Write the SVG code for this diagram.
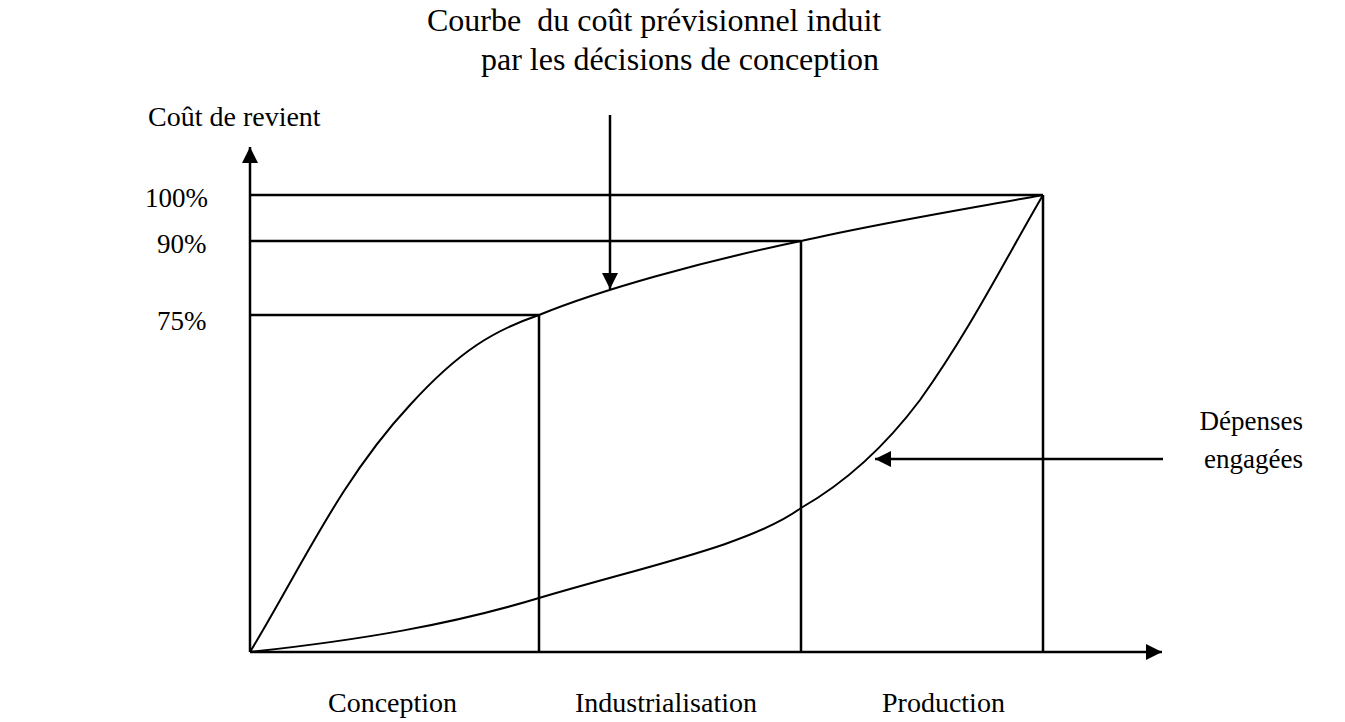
<svg xmlns="http://www.w3.org/2000/svg" width="1345" height="722" viewBox="0 0 1345 722">
  <style>
    .ln { stroke: #000; stroke-width: 2.5; fill: none; }
    .crv { stroke: #000; stroke-width: 2; fill: none; }
    .t { font-family: "Liberation Serif", "Times New Roman", serif; font-size: 27px; fill: #000; }
    .mid { font-size: 28px; }
    .big { font-size: 32px; }
  </style>
  <defs>
    <marker id="ahBig" viewBox="0 0 16 16" markerWidth="16" markerHeight="16" refX="16" refY="8" orient="auto" markerUnits="userSpaceOnUse">
      <path d="M0,0 L16,8 L0,16 Z" fill="#000"/>
    </marker>
  </defs>

  <!-- axes -->
  <g id="axes">
    <line class="ln" x1="250" y1="652" x2="250" y2="147" marker-end="url(#ahBig)"/>
    <line class="ln" x1="250" y1="652" x2="1162" y2="652" marker-end="url(#ahBig)"/>
  </g>

  <!-- reference grid lines -->
  <g id="grid">
    <line class="ln" x1="250" y1="195" x2="1043" y2="195"/>
    <line class="ln" x1="250" y1="241" x2="801" y2="241"/>
    <line class="ln" x1="250" y1="315" x2="539" y2="315"/>
    <line class="ln" x1="539" y1="315" x2="539" y2="652"/>
    <line class="ln" x1="801" y1="241" x2="801" y2="652"/>
    <line class="ln" x1="1043" y1="195" x2="1043" y2="652"/>
  </g>

  <!-- curves -->
  <g id="curve-cout-previsionnel">
    <path class="crv" d="M250,652 C300,570 340,480 410,405 C460,350 495,330 539,315 C600,290 700,262 801,241 C880,223 960,210 1043,195"/>
  </g>
  <g id="curve-depenses">
    <path class="crv" d="M250,652 C360,640 450,625 539,598 C650,565 750,545 801,508 C850,480 890,440 920,400 C970,330 1005,260 1043,195"/>
  </g>

  <!-- connectors -->
  <g id="connectors">
    <line class="ln" x1="610" y1="115" x2="610" y2="289" marker-end="url(#ahBig)"/>
    <line class="ln" x1="1163" y1="459" x2="875" y2="459" marker-end="url(#ahBig)"/>
  </g>

  <!-- labels -->
  <g id="labels">
    <text class="t big" x="427" y="31" xml:space="preserve">Courbe  du coût prévisionnel induit</text>
    <text class="t big" x="481" y="70">par les décisions de conception</text>
    <text class="t mid" x="148" y="126">Coût de revient</text>
    <text class="t" x="145" y="207">100%</text>
    <text class="t" x="157" y="253">90%</text>
    <text class="t" x="157" y="330">75%</text>
    <text class="t" x="1303" y="430" text-anchor="end">Dépenses</text>
    <text class="t" x="1303" y="468" text-anchor="end">engagées</text>
    <text class="t mid" x="328" y="712">Conception</text>
    <text class="t mid" x="575" y="712">Industrialisation</text>
    <text class="t mid" x="882" y="712">Production</text>
  </g>
</svg>
